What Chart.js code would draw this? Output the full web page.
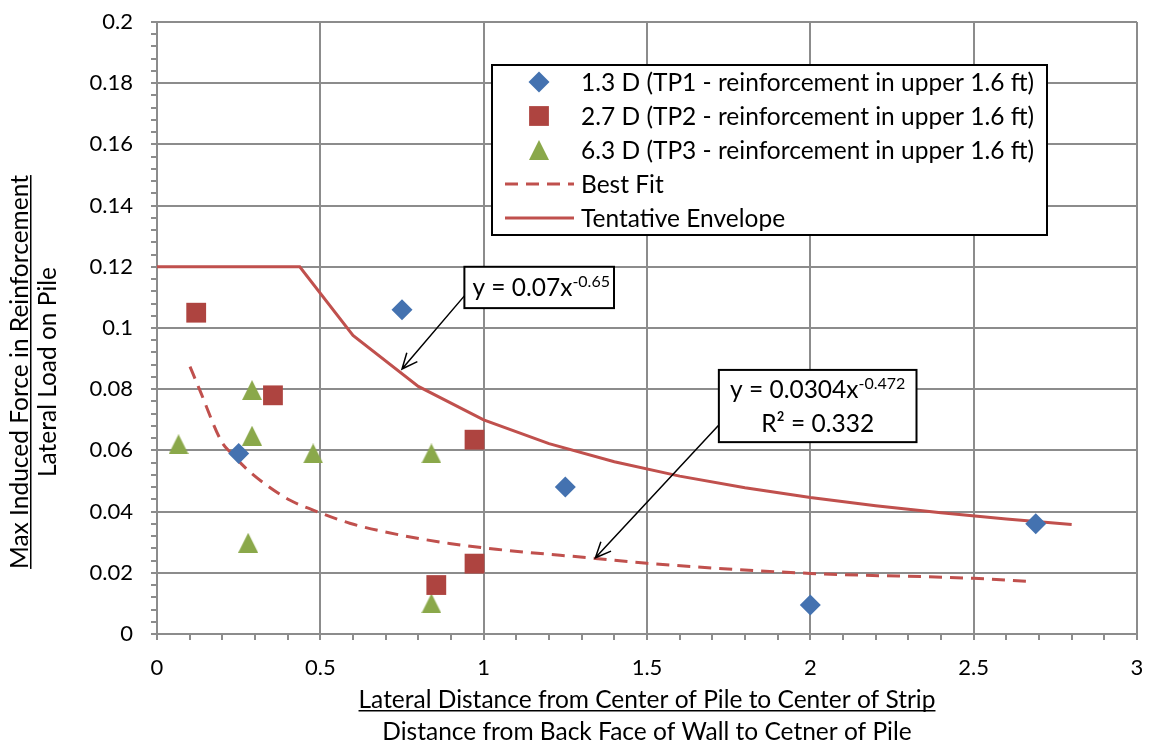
<!DOCTYPE html>
<html>
<head>
<meta charset="utf-8">
<script src="https://cdn.jsdelivr.net/npm/chart.js@4.4.1/dist/chart.umd.min.js"></script>
<style>
  html, body { margin: 0; padding: 0; background: #fff; }
</style>
</head>
<body>
<canvas id="chart" width="1151" height="756"></canvas>
<script>
// TP1 / TP2 / TP3 measurements (distance in D, force ratio)
const tp1X = [0.25, 0.75, 1.25, 2.0, 2.69];
const tp1Y = [0.059, 0.106, 0.048, 0.0095, 0.036];
const tp2X = [0.12, 0.355, 0.972, 0.972, 0.855];
const tp2Y = [0.105, 0.078, 0.0635, 0.023, 0.016];
const tp3X = [0.066, 0.291, 0.291, 0.478, 0.84, 0.279, 0.84];
const tp3Y = [0.062, 0.0797, 0.0648, 0.059, 0.059, 0.0298, 0.010];

// power-law best fit curve
const fitX = [0.101, 0.131, 0.198, 0.228, 0.284, 0.335, 0.406, 0.478, 0.59, 0.742, 0.895, 1.038, 1.342, 1.5, 2.0, 2.5, 2.673];
const fitY = [0.0874, 0.0797, 0.0628, 0.059, 0.053, 0.0487, 0.0438, 0.0405, 0.0362, 0.0324, 0.0296, 0.0277, 0.0247, 0.0231, 0.0198, 0.0182, 0.0172];

// tentative envelope: cap at 0.12, then y = 0.07x^-0.65
const envX = [0, 0.437, 0.6, 0.8, 1.0, 1.2, 1.4, 1.6, 1.8, 2.0, 2.2, 2.4, 2.6, 2.8];
const envY = [0.12, 0.12, 0.0976, 0.0809, 0.070, 0.0622, 0.0563, 0.0516, 0.0478, 0.0446, 0.0419, 0.0396, 0.0376, 0.0358];

const seriesLabels = [
  "1.3 D (TP1 - reinforcement in upper 1.6 ft)",
  "2.7 D (TP2 - reinforcement in upper 1.6 ft)",
  "6.3 D (TP3 - reinforcement in upper 1.6 ft)",
  "Best Fit",
  "Tentative Envelope",
];
const xTitle = ["Lateral Distance from Center of Pile to Center of Strip", "Distance from Back Face of Wall to Cetner of Pile"];
const yTitle = ["Max Induced Force in Reinforcement", "Lateral Load on Pile"];

const FONT = '"Lato", "Open Sans", sans-serif';
const TEXT = `24.5px ${FONT}`;
const SUP = `16px ${FONT}`;
const GRID = "#8c8c8c";
const BLUE = "#4472b0";
const RED = "#ae4440";
const GREEN = "#8aa84a";
const LINE_RED = "#c0504d";

const pts = (xs, ys) => xs.map((x, i) => ({ x, y: ys[i] }));

// Excel-like triangle marker (taller than Chart.js's equilateral one)
function triangleMarker(size, color) {
  const c = document.createElement("canvas");
  c.width = size;
  c.height = size;
  const g = c.getContext("2d");
  g.fillStyle = color;
  g.beginPath();
  g.moveTo(size / 2, 0);
  g.lineTo(size, size);
  g.lineTo(0, size);
  g.closePath();
  g.fill();
  return c;
}
const triangle = triangleMarker(20, GREEN);

const isMultiple = (v, step) => Math.abs(v / step - Math.round(v / step)) < 1e-6;
const trim = (v) => String(parseFloat(v.toFixed(3)));

function arrow(ctx, x0, y0, x1, y1) {
  const a = Math.atan2(y1 - y0, x1 - x0);
  const len = 17, spread = 0.42;
  ctx.beginPath();
  ctx.moveTo(x0, y0);
  ctx.lineTo(x1, y1);
  ctx.moveTo(x1 - len * Math.cos(a - spread), y1 - len * Math.sin(a - spread));
  ctx.lineTo(x1, y1);
  ctx.lineTo(x1 - len * Math.cos(a + spread), y1 - len * Math.sin(a + spread));
  ctx.stroke();
}

// text with a raised exponent
function powerText(ctx, base, exp, x, y) {
  ctx.font = TEXT;
  ctx.fillText(base, x, y);
  const w = ctx.measureText(base).width;
  ctx.font = SUP;
  ctx.fillText(exp, x + w, y - 9);
}

function powerWidth(ctx, base, exp) {
  ctx.font = TEXT;
  const w = ctx.measureText(base).width;
  ctx.font = SUP;
  return w + ctx.measureText(exp).width;
}

const decorations = {
  id: "decorations",
  afterDraw(chart) {
    const { ctx, chartArea } = chart;
    const xs = chart.scales.x, ys = chart.scales.y;
    const px = (v) => xs.getPixelForValue(v);
    const py = (v) => ys.getPixelForValue(v);

    ctx.save();
    ctx.fillStyle = "#000";
    ctx.strokeStyle = "#000";

    // axis titles, first line underlined
    ctx.font = TEXT;
    ctx.textAlign = "center";
    ctx.textBaseline = "alphabetic";
    const cx = (chartArea.left + chartArea.right) / 2;
    ctx.fillText(xTitle[0], cx, 708);
    let w = ctx.measureText(xTitle[0]).width;
    ctx.fillRect(cx - w / 2, 710, w, 1.5);
    ctx.fillText(xTitle[1], cx, 740);

    ctx.save();
    ctx.translate(28, 372);
    ctx.rotate(-Math.PI / 2);
    ctx.fillText(yTitle[0], 0, 0);
    w = ctx.measureText(yTitle[0]).width;
    ctx.fillRect(-w / 2, 2, w, 1.5);
    ctx.fillText(yTitle[1], 0, 28);
    ctx.restore();

    // equation callouts
    ctx.lineWidth = 1.5;
    arrow(ctx, px(0.941), py(0.1105), px(0.75), py(0.0866));
    arrow(ctx, px(1.72), py(0.0683), px(1.342), py(0.0249));

    ctx.lineWidth = 2;
    let bx = px(0.941), by = py(0.12), bw = px(1.399) - bx, bh = py(0.1065) - by;
    ctx.fillStyle = "#fff";
    ctx.fillRect(bx, by, bw, bh);
    ctx.strokeRect(bx, by, bw, bh);
    ctx.fillStyle = "#000";
    ctx.textAlign = "left";
    powerText(ctx, "y = 0.07x", "-0.65", bx + 8, by + 29);

    bx = px(1.72); by = py(0.0863); bw = px(2.325) - bx; bh = py(0.0627) - by;
    ctx.fillStyle = "#fff";
    ctx.fillRect(bx, by, bw, bh);
    ctx.strokeRect(bx, by, bw, bh);
    ctx.fillStyle = "#000";
    const eqW = powerWidth(ctx, "y = 0.0304x", "-0.472");
    powerText(ctx, "y = 0.0304x", "-0.472", bx + bw / 2 - eqW / 2, by + 28);
    ctx.font = TEXT;
    ctx.textAlign = "center";
    ctx.fillText("R² = 0.332", bx + bw / 2, by + 62);

    // legend
    const lx = 492, ly = 65, lw = 555, lh = 170;
    ctx.fillStyle = "#fff";
    ctx.fillRect(lx, ly, lw, lh);
    ctx.strokeRect(lx, ly, lw, lh);
    ctx.textAlign = "left";
    ctx.textBaseline = "middle";
    ctx.font = TEXT;
    chart.data.datasets.forEach((ds, i) => {
      const rowY = 82 + i * 34;
      if (ds.showLine) {
        ctx.save();
        ctx.strokeStyle = ds.borderColor;
        ctx.lineWidth = ds.borderWidth;
        ctx.setLineDash(ds.borderDash || []);
        ctx.beginPath();
        ctx.moveTo(505, rowY);
        ctx.lineTo(574, rowY);
        ctx.stroke();
        ctx.restore();
      } else {
        ctx.fillStyle = ds.pointBackgroundColor;
        Chart.helpers.drawPoint(ctx, {
          pointStyle: ds.pointStyle,
          radius: ds.pointRadius,
          rotation: 0,
          borderWidth: 0,
        }, 539, rowY);
      }
      ctx.fillStyle = "#000";
      ctx.fillText(ds.label, 581, rowY + 1);
    });

    ctx.restore();
  },
};

new Chart(document.getElementById("chart"), {
  type: "scatter",
  data: {
    datasets: [
      {
        label: seriesLabels[0],
        data: pts(tp1X, tp1Y),
        pointStyle: "rectRot",
        pointRadius: 10.5,
        pointBackgroundColor: BLUE,
        pointBorderWidth: 0,
      },
      {
        label: seriesLabels[1],
        data: pts(tp2X, tp2Y),
        pointStyle: "rect",
        pointRadius: 14,
        pointBackgroundColor: RED,
        pointBorderWidth: 0,
      },
      {
        label: seriesLabels[2],
        data: pts(tp3X, tp3Y),
        pointStyle: triangle,
        pointRadius: 10,
        pointBackgroundColor: GREEN,
        pointBorderWidth: 0,
      },
      {
        label: seriesLabels[3],
        data: pts(fitX, fitY),
        showLine: true,
        borderColor: LINE_RED,
        borderWidth: 3,
        borderDash: [13, 8],
        cubicInterpolationMode: "monotone",
        pointRadius: 0,
        order: 1,
      },
      {
        label: seriesLabels[4],
        data: pts(envX, envY),
        showLine: true,
        borderColor: LINE_RED,
        borderWidth: 3,
        pointRadius: 0,
        order: 1,
      },
    ],
  },
  options: {
    responsive: false,
    animation: false,
    devicePixelRatio: 1,
    layout: { padding: { top: 22, right: 12, left: 0, bottom: 0 } },
    plugins: {
      legend: { display: false },
      tooltip: { enabled: false },
    },
    scales: {
      x: {
        type: "linear",
        min: 0,
        max: 3,
        afterFit: (scale) => { scale.height = 122; },
        ticks: {
          stepSize: 0.1,
          autoSkip: false,
          maxRotation: 0,
          color: "#000",
          // tall line box pushes the labels down without widening the side padding
          font: { family: FONT, size: 22, lineHeight: 2.2 },
          padding: 4,
          callback: (v) => (isMultiple(v, 0.5) ? trim(v) : ""),
        },
        grid: {
          color: (c) => (isMultiple(c.tick.value, 0.5) ? GRID : "rgba(0,0,0,0)"),
          tickColor: GRID,
          lineWidth: 2,
          tickLength: 6,
        },
        border: { color: GRID, width: 2 },
      },
      y: {
        min: 0,
        max: 0.2,
        afterFit: (scale) => { scale.width = 157; },
        ticks: {
          stepSize: 0.004,
          autoSkip: false,
          color: "#000",
          // short line box keeps the top label from adding extra top padding
          font: { family: FONT, size: 22, lineHeight: 0.3 },
          padding: 18,
          callback: (v) => (isMultiple(v, 0.02) ? trim(v) : ""),
        },
        grid: {
          color: (c) => (isMultiple(c.tick.value, 0.02) ? GRID : "rgba(0,0,0,0)"),
          tickColor: GRID,
          lineWidth: 2,
          tickLength: 6,
        },
        border: { color: GRID, width: 2 },
      },
    },
  },
  plugins: [decorations],
});
</script>
</body>
</html>
